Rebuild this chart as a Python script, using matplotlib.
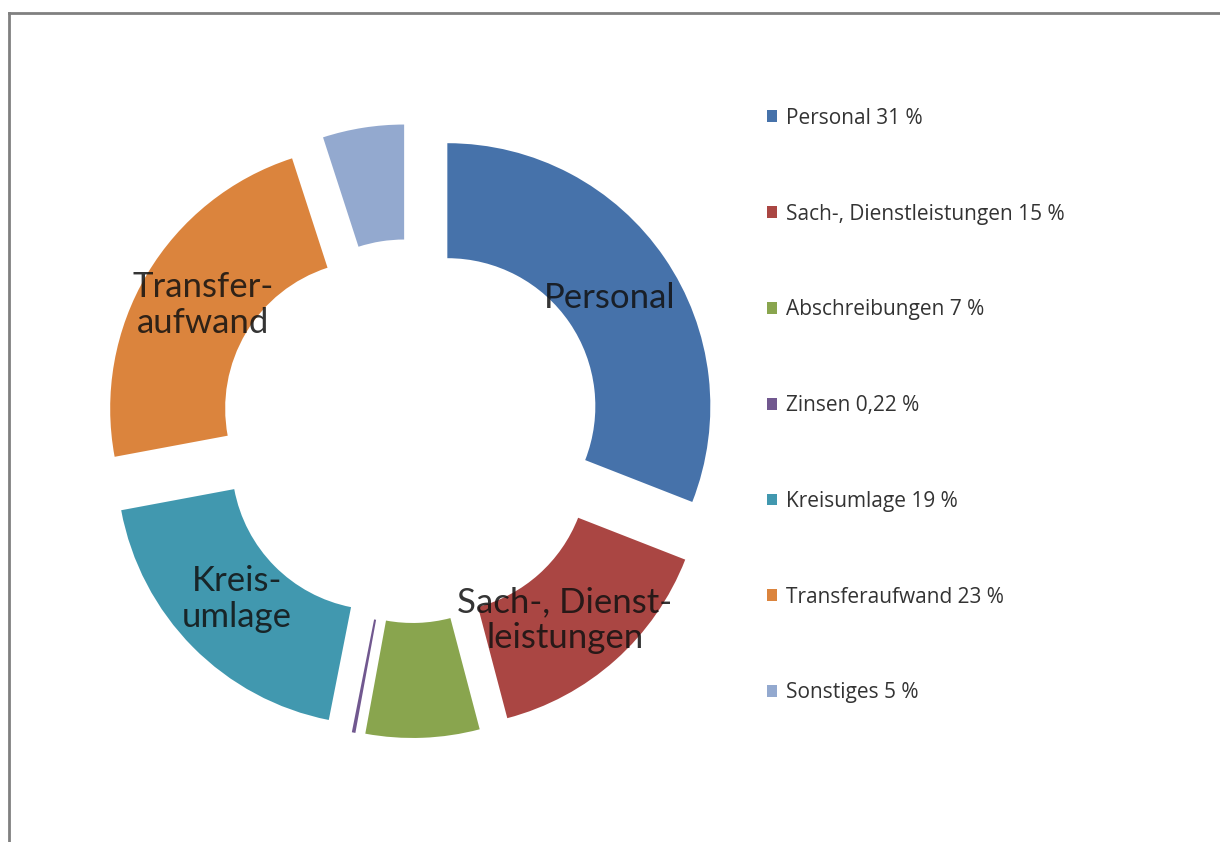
import matplotlib
matplotlib.use("Agg")
import matplotlib.pyplot as plt
from matplotlib.lines import Line2D

plt.rcParams['font.family'] = ['Lato', 'DejaVu Sans']

# Daten (Anteile in %)
kategorien = ["Personal", "Sach-, Dienstleistungen", "Abschreibungen", "Zinsen",
              "Kreisumlage", "Transferaufwand", "Sonstiges"]
werte = [31, 15, 7, 0.22, 19, 23, 5]
legende = ["Personal 31 %", "Sach-, Dienstleistungen 15 %", "Abschreibungen 7 %",
           "Zinsen 0,22 %", "Kreisumlage 19 %", "Transferaufwand 23 %", "Sonstiges 5 %"]
beschriftung = ["Personal", "Sach-, Dienst-\nleistungen", "", "", "Kreis-\numlage",
                "Transfer-\naufwand", ""]
farben = ["#4672AA", "#AA4643", "#89A54E", "#71588F", "#4198AF", "#DB843D", "#93A9CF"]

W, H = 1220, 842
fig = plt.figure(figsize=(W / 100, H / 100), dpi=100)
ax = fig.add_axes([0, 0, 1, 1])

R = 263
mitte = (411, H - 431)
expl = [44] * len(werte)

wedges, _ = ax.pie(werte, explode=expl, colors=farben, startangle=90, counterclock=False,
                   radius=R, center=mitte, wedgeprops=dict(width=R - 148, linewidth=0),
                   frame=True)
ax.set_xlim(0, W)
ax.set_ylim(0, H)
ax.set_aspect("equal")
ax.axis("off")

# Beschriftungen im Ring
pos = [(610, 298), (565, 620), None, None, (237, 599), (203, 305), None]
for txt, p in zip(beschriftung, pos):
    if p is None:
        continue
    ax.text(p[0], H - p[1], txt, ha="center", va="center", fontsize=25,
            color="#111111", alpha=0.85, linespacing=1.15)

# Legende
fig.legend(wedges, legende, loc="upper left", bbox_to_anchor=(748 / W, 1 - 89 / H),
           frameon=False, labelspacing=3.59, handlelength=0.5,
           handleheight=0.5, handletextpad=0.4, labelcolor="#333333",
           prop={'family': ['Open Sans', 'DejaVu Sans'], 'size': 15})

# Rahmen
fig.add_artist(Line2D([9 / W, 1], [1 - 13 / H, 1 - 13 / H], color="#808080", lw=2,
                      transform=fig.transFigure))
fig.add_artist(Line2D([9 / W, 9 / W], [0, 1 - 13 / H], color="#808080", lw=2,
                      transform=fig.transFigure))

fig.savefig("out.png", dpi=100, facecolor="white")
